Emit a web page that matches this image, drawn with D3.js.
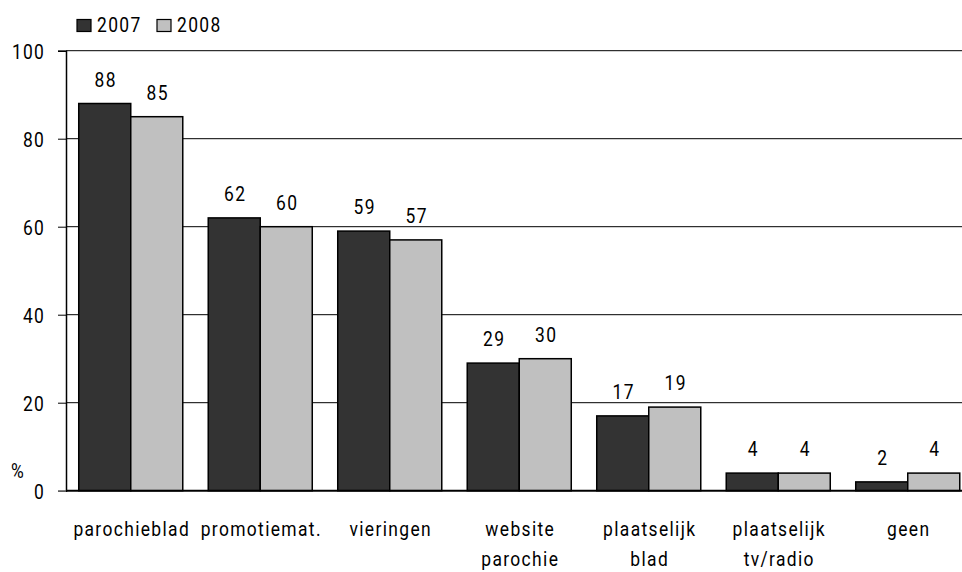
<!DOCTYPE html>
<html>
<head>
<meta charset="utf-8">
<script src="https://cdn.jsdelivr.net/npm/d3@7"></script>
<style>
  body { margin: 0; background: #fff; }
  svg { display: block; }
  text { font-family: Roboto, "DejaVu Sans Condensed", sans-serif; font-size: 20.5px; fill: #000; letter-spacing: 1.6px; }
</style>
</head>
<body>
<svg width="962" height="572"></svg>
<script>
  const categories = [
    ['parochieblad'], ['promotiemat.'], ['vieringen'], ['website', 'parochie'],
    ['plaatselijk', 'blad'], ['plaatselijk', 'tv/radio'], ['geen']
  ];
  const years = ['2007', '2008'];
  const values2007 = [88, 62, 59, 29, 17, 4, 2];
  const values2008 = [85, 60, 57, 30, 19, 4, 4];
  const yTicks = [0, 20, 40, 60, 80, 100];
  const colors = { '2007': '#333333', '2008': '#c0c0c0' };

  const svg = d3.select('svg');
  const plotLeft = 66, plotTop = 50.7, plotBottom = 490.7;
  const squeeze = 0.85; // narrow the glyphs, the source uses a condensed face

  const at = (x, yy) => `translate(${x},${yy}) scale(${squeeze},1)`;

  const catKeys = categories.map(c => c.join(' '));
  const rows = catKeys.map((k, i) => ({ key: k, lines: categories[i], '2007': values2007[i], '2008': values2008[i] }));

  const x0 = d3.scaleBand().domain(catKeys).range([plotLeft, plotLeft + 7 * 129.5]).padding(0);
  const x1 = d3.scaleBand().domain(years).range([0, x0.bandwidth()]).paddingInner(0).paddingOuter(0.245);
  const y = d3.scaleLinear().domain([0, 100]).range([plotBottom, plotTop]);

  // gridlines
  svg.append('g').selectAll('line').data(yTicks.filter(d => d > 0)).enter().append('line')
    .attr('x1', plotLeft).attr('x2', 962)
    .attr('y1', d => y(d)).attr('y2', d => y(d))
    .attr('stroke', '#000').attr('stroke-width', 1);

  // y axis
  const yAxis = svg.append('g')
    .attr('transform', `translate(${plotLeft},0)`)
    .call(d3.axisLeft(y).tickValues(yTicks).tickSize(8).tickPadding(13));
  yAxis.attr('font-family', null).attr('font-size', null);
  yAxis.select('.domain').attr('stroke', '#000').attr('stroke-width', 1.5);
  yAxis.selectAll('.tick line').attr('stroke', d => d === 0 ? '#888' : '#000');
  yAxis.selectAll('.tick text')
    .attr('fill', '#000')
    .attr('x', 0).attr('dy', '0.36em')
    .attr('transform', at(-21, 0))
    .style('letter-spacing', '1.4px');

  svg.append('text').attr('transform', at(11, 478)).text('%').style('letter-spacing', '0');

  // bars
  const groups = svg.append('g').selectAll('g').data(rows).enter().append('g')
    .attr('transform', d => `translate(${x0(d.key)},0)`);

  groups.selectAll('rect').data(d => years.map(yr => ({ yr, v: d[yr] }))).enter().append('rect')
    .attr('x', d => x1(d.yr))
    .attr('width', x1.bandwidth())
    .attr('y', d => y(d.v))
    .attr('height', d => y(0) - y(d.v))
    .attr('fill', d => colors[d.yr])
    .attr('stroke', '#000').attr('stroke-width', 1.5);

  groups.selectAll('text.val').data(d => years.map(yr => ({ yr, v: d[yr] }))).enter().append('text')
    .attr('class', 'val')
    .attr('transform', d => at(x1(d.yr) + x1.bandwidth() / 2 + 1, y(d.v) - 17))
    .attr('text-anchor', 'middle')
    .text(d => d.v);

  // x axis baseline
  svg.append('line').attr('x1', plotLeft).attr('x2', 962)
    .attr('y1', y(0)).attr('y2', y(0))
    .attr('stroke', '#000').attr('stroke-width', 2);

  // category labels
  groups.each(function (d) {
    const t = d3.select(this).append('text')
      .attr('text-anchor', 'middle')
      .attr('transform', at(x0.bandwidth() / 2 + 1, 536));
    d.lines.forEach((ln, i) => {
      t.append('tspan').attr('x', 0).attr('dy', i === 0 ? 0 : 30).text(ln);
    });
  });

  // legend
  const legend = svg.append('g');
  years.forEach((yr, i) => {
    const lx = 77 + i * 80;
    legend.append('rect').attr('x', lx).attr('y', 19.5).attr('width', 14).attr('height', 12)
      .attr('fill', colors[yr]).attr('stroke', '#000').attr('stroke-width', 1.2);
    legend.append('text').attr('transform', at(lx + 20, 31.5)).text(yr);
  });
</script>
</body>
</html>
